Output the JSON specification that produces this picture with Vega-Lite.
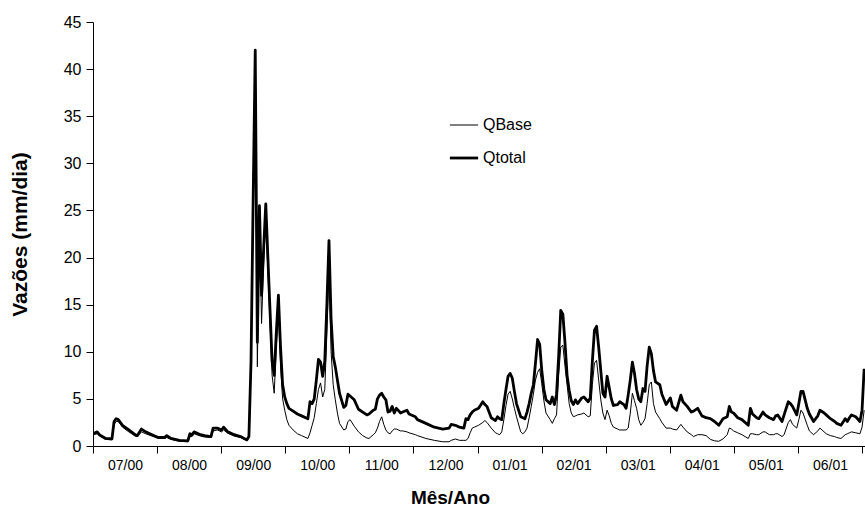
{
"$schema": "https://vega.github.io/schema/vega-lite/v6.json",
"width": 772, "height": 424,
"autosize": "none",
"padding": {"left": 93, "top": 22, "right": 0, "bottom": 64},
"background": "white",
"config": {"view": {"stroke": null}, "font": "Liberation Sans",
  "axis": {"grid": false, "domainColor": "black", "tickColor": "black", "labelColor": "black", "titleColor": "black", "labelFont": "Liberation Sans", "titleFont": "Liberation Sans"}},
"data": {"values": [
{"d":"2000-07-01","Qtotal":1.3,"QBase":1.2},
{"d":"2000-07-03","Qtotal":1.5,"QBase":1.3},
{"d":"2000-07-04","Qtotal":1.2,"QBase":1.1},
{"d":"2000-07-07","Qtotal":0.8,"QBase":0.7},
{"d":"2000-07-10","Qtotal":0.75,"QBase":0.65},
{"d":"2000-07-11","Qtotal":2.6,"QBase":2.3},
{"d":"2000-07-12","Qtotal":2.9,"QBase":2.6},
{"d":"2000-07-13","Qtotal":2.8,"QBase":2.6},
{"d":"2000-07-15","Qtotal":2.2,"QBase":2.0},
{"d":"2000-07-18","Qtotal":1.7,"QBase":1.5},
{"d":"2000-07-21","Qtotal":1.2,"QBase":1.05},
{"d":"2000-07-22","Qtotal":1.1,"QBase":1.0},
{"d":"2000-07-24","Qtotal":1.8,"QBase":1.5},
{"d":"2000-07-26","Qtotal":1.5,"QBase":1.3},
{"d":"2000-07-29","Qtotal":1.2,"QBase":1.05},
{"d":"2000-08-01","Qtotal":0.9,"QBase":0.8},
{"d":"2000-08-04","Qtotal":0.9,"QBase":0.8},
{"d":"2000-08-05","Qtotal":1.1,"QBase":0.9},
{"d":"2000-08-07","Qtotal":0.8,"QBase":0.7},
{"d":"2000-08-11","Qtotal":0.6,"QBase":0.5},
{"d":"2000-08-15","Qtotal":0.55,"QBase":0.45},
{"d":"2000-08-16","Qtotal":1.3,"QBase":1.0},
{"d":"2000-08-17","Qtotal":1.2,"QBase":1.0},
{"d":"2000-08-18","Qtotal":1.5,"QBase":1.3},
{"d":"2000-08-21","Qtotal":1.2,"QBase":1.05},
{"d":"2000-08-23","Qtotal":1.1,"QBase":0.95},
{"d":"2000-08-26","Qtotal":1.0,"QBase":0.9},
{"d":"2000-08-27","Qtotal":1.9,"QBase":1.6},
{"d":"2000-08-29","Qtotal":1.9,"QBase":1.7},
{"d":"2000-08-31","Qtotal":1.7,"QBase":1.5},
{"d":"2000-09-01","Qtotal":2.0,"QBase":1.7},
{"d":"2000-09-03","Qtotal":1.5,"QBase":1.35},
{"d":"2000-09-06","Qtotal":1.2,"QBase":1.05},
{"d":"2000-09-09","Qtotal":1.0,"QBase":0.9},
{"d":"2000-09-12","Qtotal":0.65,"QBase":0.55},
{"d":"2000-09-13","Qtotal":1.0,"QBase":0.9},
{"d":"2000-09-14","Qtotal":9.0,"QBase":8.5},
{"d":"2000-09-15","Qtotal":26,"QBase":25},
{"d":"2000-09-16","Qtotal":42,"QBase":41.5},
{"d":"2000-09-17","Qtotal":11,"QBase":8.4},
{"d":"2000-09-18","Qtotal":25.5,"QBase":24.5},
{"d":"2000-09-19","Qtotal":16,"QBase":13},
{"d":"2000-09-20","Qtotal":21,"QBase":19.5},
{"d":"2000-09-21","Qtotal":25.7,"QBase":24.5},
{"d":"2000-09-22","Qtotal":20,"QBase":18.5},
{"d":"2000-09-23","Qtotal":14.5,"QBase":13},
{"d":"2000-09-24","Qtotal":9,"QBase":7.5},
{"d":"2000-09-25","Qtotal":7.5,"QBase":5.6},
{"d":"2000-09-26","Qtotal":12,"QBase":10.5},
{"d":"2000-09-27","Qtotal":16,"QBase":14.5},
{"d":"2000-09-28","Qtotal":10.5,"QBase":8.5},
{"d":"2000-09-29","Qtotal":6.5,"QBase":5.0},
{"d":"2000-09-30","Qtotal":5.2,"QBase":3.8},
{"d":"2000-10-01","Qtotal":4.5,"QBase":2.8},
{"d":"2000-10-02","Qtotal":4.0,"QBase":2.2},
{"d":"2000-10-04","Qtotal":3.7,"QBase":1.7},
{"d":"2000-10-06","Qtotal":3.4,"QBase":1.3},
{"d":"2000-10-08","Qtotal":3.2,"QBase":1.1},
{"d":"2000-10-11","Qtotal":2.9,"QBase":0.8},
{"d":"2000-10-12","Qtotal":4.7,"QBase":1.4},
{"d":"2000-10-13","Qtotal":4.5,"QBase":2.2},
{"d":"2000-10-14","Qtotal":5.0,"QBase":3.0},
{"d":"2000-10-15","Qtotal":7.0,"QBase":4.5},
{"d":"2000-10-16","Qtotal":9.2,"QBase":6.0},
{"d":"2000-10-17","Qtotal":8.9,"QBase":6.7},
{"d":"2000-10-18","Qtotal":7.4,"QBase":5.2},
{"d":"2000-10-19","Qtotal":9.0,"QBase":6.0},
{"d":"2000-10-20","Qtotal":15,"QBase":12},
{"d":"2000-10-21","Qtotal":21.8,"QBase":18.5},
{"d":"2000-10-22","Qtotal":13.5,"QBase":10},
{"d":"2000-10-23","Qtotal":9.5,"QBase":6.5},
{"d":"2000-10-24","Qtotal":8.4,"QBase":4.9},
{"d":"2000-10-25","Qtotal":7.0,"QBase":3.5},
{"d":"2000-10-26","Qtotal":5.6,"QBase":2.4},
{"d":"2000-10-28","Qtotal":4.1,"QBase":1.7},
{"d":"2000-10-29","Qtotal":4.3,"QBase":1.8},
{"d":"2000-10-30","Qtotal":5.5,"QBase":2.6},
{"d":"2000-10-31","Qtotal":5.3,"QBase":2.8},
{"d":"2000-11-02","Qtotal":4.9,"QBase":2.1},
{"d":"2000-11-04","Qtotal":3.9,"QBase":1.5},
{"d":"2000-11-06","Qtotal":3.6,"QBase":1.1},
{"d":"2000-11-08","Qtotal":3.3,"QBase":0.85},
{"d":"2000-11-09","Qtotal":3.4,"QBase":0.8},
{"d":"2000-11-11","Qtotal":3.8,"QBase":1.2},
{"d":"2000-11-12","Qtotal":3.9,"QBase":1.4},
{"d":"2000-11-13","Qtotal":5.0,"QBase":1.9},
{"d":"2000-11-14","Qtotal":5.4,"QBase":2.6},
{"d":"2000-11-15","Qtotal":5.6,"QBase":3.1},
{"d":"2000-11-16","Qtotal":5.2,"QBase":2.3},
{"d":"2000-11-17","Qtotal":4.9,"QBase":1.7},
{"d":"2000-11-18","Qtotal":3.6,"QBase":1.4},
{"d":"2000-11-19","Qtotal":3.7,"QBase":1.3},
{"d":"2000-11-20","Qtotal":4.2,"QBase":1.6},
{"d":"2000-11-21","Qtotal":3.5,"QBase":1.8},
{"d":"2000-11-22","Qtotal":4.0,"QBase":1.8},
{"d":"2000-11-24","Qtotal":3.5,"QBase":1.6},
{"d":"2000-11-25","Qtotal":3.6,"QBase":1.6},
{"d":"2000-11-27","Qtotal":3.8,"QBase":1.5},
{"d":"2000-11-28","Qtotal":3.4,"QBase":1.4},
{"d":"2000-12-01","Qtotal":3.1,"QBase":1.2},
{"d":"2000-12-02","Qtotal":2.8,"QBase":1.1},
{"d":"2000-12-06","Qtotal":2.4,"QBase":0.8},
{"d":"2000-12-10","Qtotal":2.0,"QBase":0.6},
{"d":"2000-12-14","Qtotal":1.8,"QBase":0.45},
{"d":"2000-12-17","Qtotal":1.9,"QBase":0.45},
{"d":"2000-12-18","Qtotal":2.3,"QBase":0.6},
{"d":"2000-12-20","Qtotal":2.2,"QBase":0.74},
{"d":"2000-12-22","Qtotal":2.0,"QBase":0.6},
{"d":"2000-12-24","Qtotal":1.9,"QBase":0.6},
{"d":"2000-12-25","Qtotal":2.9,"QBase":0.6},
{"d":"2000-12-26","Qtotal":2.8,"QBase":0.8},
{"d":"2000-12-27","Qtotal":3.3,"QBase":1.4},
{"d":"2000-12-28","Qtotal":3.6,"QBase":1.9},
{"d":"2000-12-29","Qtotal":3.8,"QBase":2.0},
{"d":"2000-12-31","Qtotal":4.0,"QBase":2.2},
{"d":"2001-01-02","Qtotal":4.7,"QBase":2.5},
{"d":"2001-01-03","Qtotal":4.4,"QBase":2.7},
{"d":"2001-01-04","Qtotal":4.2,"QBase":2.5},
{"d":"2001-01-06","Qtotal":3.0,"QBase":1.9},
{"d":"2001-01-08","Qtotal":2.7,"QBase":1.4},
{"d":"2001-01-09","Qtotal":3.1,"QBase":1.3},
{"d":"2001-01-10","Qtotal":2.9,"QBase":1.2},
{"d":"2001-01-11","Qtotal":2.8,"QBase":1.5},
{"d":"2001-01-12","Qtotal":4.5,"QBase":2.8},
{"d":"2001-01-13","Qtotal":6.0,"QBase":4.3},
{"d":"2001-01-14","Qtotal":7.4,"QBase":5.5},
{"d":"2001-01-15","Qtotal":7.7,"QBase":5.8},
{"d":"2001-01-16","Qtotal":7.2,"QBase":5.0},
{"d":"2001-01-17","Qtotal":5.8,"QBase":4.0},
{"d":"2001-01-18","Qtotal":4.5,"QBase":3.1},
{"d":"2001-01-20","Qtotal":3.1,"QBase":1.5},
{"d":"2001-01-21","Qtotal":3.0,"QBase":1.3},
{"d":"2001-01-22","Qtotal":2.9,"QBase":1.5},
{"d":"2001-01-23","Qtotal":3.6,"QBase":1.9},
{"d":"2001-01-24","Qtotal":4.5,"QBase":3.0},
{"d":"2001-01-25","Qtotal":5.6,"QBase":4.2},
{"d":"2001-01-26","Qtotal":6.5,"QBase":5.5},
{"d":"2001-01-27","Qtotal":8.8,"QBase":7.0},
{"d":"2001-01-28","Qtotal":11.3,"QBase":7.8},
{"d":"2001-01-29","Qtotal":10.8,"QBase":8.2},
{"d":"2001-01-30","Qtotal":8.0,"QBase":6.6},
{"d":"2001-01-31","Qtotal":6.0,"QBase":4.8},
{"d":"2001-02-01","Qtotal":4.9,"QBase":3.5},
{"d":"2001-02-03","Qtotal":4.5,"QBase":2.8},
{"d":"2001-02-04","Qtotal":5.2,"QBase":2.4},
{"d":"2001-02-05","Qtotal":4.4,"QBase":2.9},
{"d":"2001-02-06","Qtotal":5.5,"QBase":3.3},
{"d":"2001-02-07","Qtotal":9.5,"QBase":7.5},
{"d":"2001-02-08","Qtotal":14.4,"QBase":10.5},
{"d":"2001-02-09","Qtotal":14.0,"QBase":10.7},
{"d":"2001-02-10","Qtotal":11.0,"QBase":8.5},
{"d":"2001-02-11","Qtotal":7.5,"QBase":6.5},
{"d":"2001-02-12","Qtotal":5.9,"QBase":4.5},
{"d":"2001-02-13","Qtotal":4.8,"QBase":3.5},
{"d":"2001-02-14","Qtotal":4.4,"QBase":3.1},
{"d":"2001-02-15","Qtotal":4.9,"QBase":3.2},
{"d":"2001-02-16","Qtotal":4.5,"QBase":3.3},
{"d":"2001-02-18","Qtotal":5.1,"QBase":3.4},
{"d":"2001-02-19","Qtotal":5.2,"QBase":3.5},
{"d":"2001-02-21","Qtotal":4.7,"QBase":3.1},
{"d":"2001-02-22","Qtotal":5.1,"QBase":3.2},
{"d":"2001-02-23","Qtotal":9.0,"QBase":6.5},
{"d":"2001-02-24","Qtotal":12.3,"QBase":8.8},
{"d":"2001-02-25","Qtotal":12.7,"QBase":9.1},
{"d":"2001-02-26","Qtotal":10.5,"QBase":7.0},
{"d":"2001-02-27","Qtotal":8.0,"QBase":4.9},
{"d":"2001-02-28","Qtotal":5.6,"QBase":3.5},
{"d":"2001-03-01","Qtotal":5.2,"QBase":2.8},
{"d":"2001-03-02","Qtotal":7.4,"QBase":3.8},
{"d":"2001-03-03","Qtotal":6.2,"QBase":3.2},
{"d":"2001-03-04","Qtotal":5.0,"QBase":2.4},
{"d":"2001-03-05","Qtotal":4.3,"QBase":2.0},
{"d":"2001-03-07","Qtotal":4.4,"QBase":1.8},
{"d":"2001-03-08","Qtotal":4.7,"QBase":1.7},
{"d":"2001-03-10","Qtotal":4.4,"QBase":1.7},
{"d":"2001-03-11","Qtotal":4.0,"QBase":1.7},
{"d":"2001-03-12","Qtotal":5.4,"QBase":1.9},
{"d":"2001-03-13","Qtotal":7.0,"QBase":3.5},
{"d":"2001-03-14","Qtotal":8.9,"QBase":5.6},
{"d":"2001-03-15","Qtotal":7.7,"QBase":4.8},
{"d":"2001-03-16","Qtotal":6.0,"QBase":4.0},
{"d":"2001-03-17","Qtotal":5.0,"QBase":2.8},
{"d":"2001-03-18","Qtotal":4.7,"QBase":2.2},
{"d":"2001-03-19","Qtotal":6.1,"QBase":2.5},
{"d":"2001-03-20","Qtotal":5.8,"QBase":2.9},
{"d":"2001-03-21","Qtotal":8.5,"QBase":4.5},
{"d":"2001-03-22","Qtotal":10.5,"QBase":6.5},
{"d":"2001-03-23","Qtotal":9.8,"QBase":6.8},
{"d":"2001-03-24","Qtotal":8.0,"QBase":4.5},
{"d":"2001-03-25","Qtotal":6.8,"QBase":3.6},
{"d":"2001-03-27","Qtotal":6.5,"QBase":2.9},
{"d":"2001-03-28","Qtotal":5.5,"QBase":2.5},
{"d":"2001-03-30","Qtotal":4.4,"QBase":1.9},
{"d":"2001-04-01","Qtotal":5.1,"QBase":1.9},
{"d":"2001-04-02","Qtotal":4.2,"QBase":1.8},
{"d":"2001-04-04","Qtotal":3.8,"QBase":1.7},
{"d":"2001-04-06","Qtotal":5.4,"QBase":2.3},
{"d":"2001-04-07","Qtotal":4.7,"QBase":2.0},
{"d":"2001-04-09","Qtotal":4.2,"QBase":1.5},
{"d":"2001-04-11","Qtotal":3.6,"QBase":1.2},
{"d":"2001-04-12","Qtotal":3.7,"QBase":1.0},
{"d":"2001-04-14","Qtotal":4.0,"QBase":1.2},
{"d":"2001-04-16","Qtotal":3.2,"QBase":1.2},
{"d":"2001-04-18","Qtotal":3.0,"QBase":1.1},
{"d":"2001-04-20","Qtotal":2.9,"QBase":0.7},
{"d":"2001-04-22","Qtotal":2.6,"QBase":0.55},
{"d":"2001-04-24","Qtotal":2.2,"QBase":0.5},
{"d":"2001-04-26","Qtotal":2.9,"QBase":0.75},
{"d":"2001-04-28","Qtotal":3.1,"QBase":1.2},
{"d":"2001-04-29","Qtotal":4.2,"QBase":1.9},
{"d":"2001-04-30","Qtotal":3.6,"QBase":1.8},
{"d":"2001-05-01","Qtotal":3.5,"QBase":1.6},
{"d":"2001-05-03","Qtotal":3.0,"QBase":1.4},
{"d":"2001-05-05","Qtotal":2.8,"QBase":1.2},
{"d":"2001-05-08","Qtotal":2.2,"QBase":0.8},
{"d":"2001-05-09","Qtotal":4.0,"QBase":1.3},
{"d":"2001-05-10","Qtotal":3.4,"QBase":1.3},
{"d":"2001-05-12","Qtotal":3.0,"QBase":1.2},
{"d":"2001-05-13","Qtotal":2.9,"QBase":1.2},
{"d":"2001-05-15","Qtotal":3.6,"QBase":1.5},
{"d":"2001-05-16","Qtotal":3.3,"QBase":1.5},
{"d":"2001-05-18","Qtotal":3.0,"QBase":1.2},
{"d":"2001-05-20","Qtotal":2.8,"QBase":1.2},
{"d":"2001-05-21","Qtotal":3.2,"QBase":1.3},
{"d":"2001-05-22","Qtotal":3.3,"QBase":1.3},
{"d":"2001-05-24","Qtotal":2.6,"QBase":1.0},
{"d":"2001-05-25","Qtotal":3.3,"QBase":1.2},
{"d":"2001-05-27","Qtotal":4.7,"QBase":2.5},
{"d":"2001-05-28","Qtotal":4.5,"QBase":2.8},
{"d":"2001-05-29","Qtotal":4.2,"QBase":2.3},
{"d":"2001-05-31","Qtotal":3.3,"QBase":1.9},
{"d":"2001-06-01","Qtotal":4.5,"QBase":2.8},
{"d":"2001-06-02","Qtotal":5.8,"QBase":3.8},
{"d":"2001-06-03","Qtotal":5.8,"QBase":3.5},
{"d":"2001-06-05","Qtotal":4.0,"QBase":2.2},
{"d":"2001-06-06","Qtotal":3.4,"QBase":1.6},
{"d":"2001-06-08","Qtotal":2.6,"QBase":1.2},
{"d":"2001-06-10","Qtotal":3.2,"QBase":1.6},
{"d":"2001-06-11","Qtotal":3.8,"QBase":1.9},
{"d":"2001-06-13","Qtotal":3.5,"QBase":1.5},
{"d":"2001-06-14","Qtotal":3.3,"QBase":1.3},
{"d":"2001-06-16","Qtotal":2.9,"QBase":1.1},
{"d":"2001-06-18","Qtotal":2.6,"QBase":1.0},
{"d":"2001-06-19","Qtotal":2.4,"QBase":0.9},
{"d":"2001-06-21","Qtotal":2.2,"QBase":0.8},
{"d":"2001-06-23","Qtotal":2.9,"QBase":1.2},
{"d":"2001-06-24","Qtotal":2.6,"QBase":1.3},
{"d":"2001-06-25","Qtotal":3.0,"QBase":1.4},
{"d":"2001-06-26","Qtotal":3.3,"QBase":1.5},
{"d":"2001-06-28","Qtotal":3.1,"QBase":1.4},
{"d":"2001-06-30","Qtotal":2.6,"QBase":1.3},
{"d":"2001-07-01","Qtotal":3.8,"QBase":2.0},
{"d":"2001-07-02","Qtotal":8.2,"QBase":3.8}
]},
"transform": [{"fold": ["QBase", "Qtotal"], "as": ["serie", "valor"]}],
"mark": {"type": "line", "color": "black", "strokeJoin": "round", "clip": true},
"encoding": {
  "x": {"field": "d", "type": "temporal",
    "scale": {"type": "utc", "domain": [962409600000, 994066560000]},
    "axis": {"values": [962409600000, 965037600000, 967665600000, 970293600000, 972921600000, 975549600000, 978177600000, 980805600000, 983433600000, 986061600000, 988689600000, 991317600000, 993945600000],
      "labelExpr": "time(datum.value) > 993000000000 ? '' : utcFormat(time(datum.value) + 1296000000, '%m/%y')",
      "labelOffset": 32, "labelFontSize": 14, "labelOverlap": false, "labelFlush": false, "labelBound": false,
      "tickSize": 7, "labelPadding": 5,
      "title": "Mês/Ano", "titleFontSize": 19, "titleFontWeight": "bold", "titleX": 357, "titleY": 51, "titleBaseline": "middle"}},
  "y": {"field": "valor", "type": "quantitative",
    "scale": {"domain": [0, 45], "nice": false},
    "axis": {"values": [0, 5, 10, 15, 20, 25, 30, 35, 40, 45], "labelFontSize": 16, "tickSize": 7, "labelPadding": 5,
      "title": "Vazões (mm/dia)", "titleFontSize": 21, "titleFontWeight": "bold", "titleX": -73, "titleY": 212, "titleBaseline": "middle"}},
  "strokeWidth": {"field": "serie", "type": "nominal",
    "scale": {"domain": ["QBase", "Qtotal"], "range": [1, 2.8]},
    "legend": {"orient": "none", "legendX": 355, "legendY": 88, "title": null, "symbolType": "stroke", "symbolSize": 800, "symbolStrokeColor": "black", "labelFontSize": 16, "labelFont": "Liberation Sans", "labelColor": "black", "rowPadding": 9, "labelOffset": 3}}
}
}
